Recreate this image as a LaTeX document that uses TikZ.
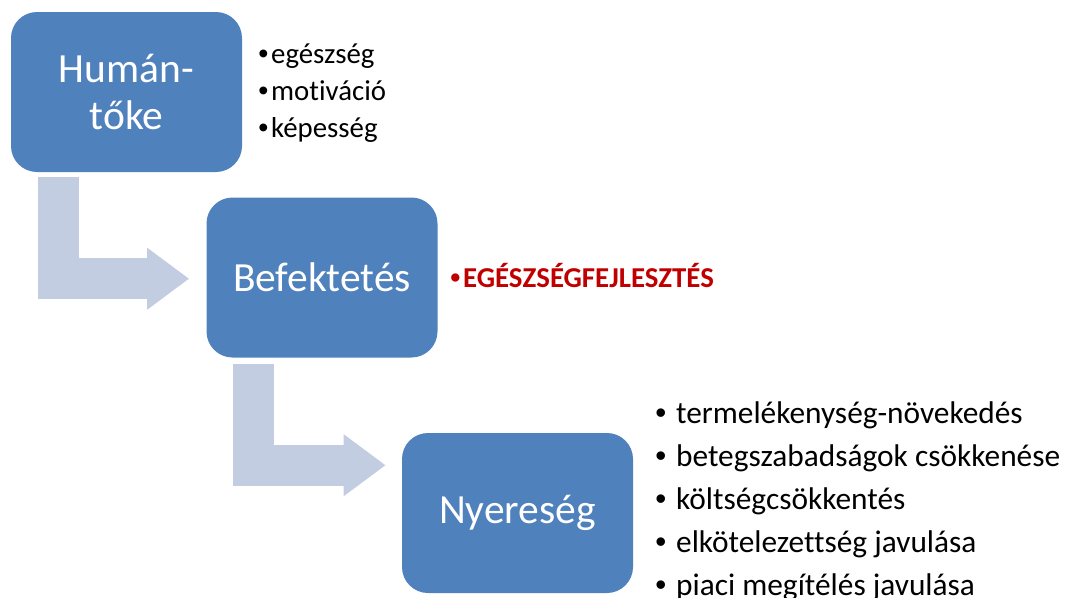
\documentclass[tikz,border=0pt]{standalone}
\usepackage{fontspec}
\setmainfont{Carlito}[Ligatures={NoCommon}]
\newfontfamily\pontbetu{Liberation Sans}
\usetikzlibrary{arrows.meta}
\definecolor{doboz}{RGB}{79,129,189}
\definecolor{nyilszin}{RGB}{195,205,226}
\definecolor{piros}{RGB}{192,0,0}
\newcommand{\pnt}{{\pontbetu •}\kern0.07cm}

\begin{document}
\begin{tikzpicture}[
  lepes/.style={rectangle, rounded corners=0.65cm, fill=doboz, text=white,
    minimum width=5.775cm, minimum height=4cm, align=center,
    font=\fontsize{29.5}{33}\selectfont},
  nyil/.style={nyilszin, line width=1.025cm, line join=miter,
    -{Triangle[length=1.05cm,width=1.475cm]}},
  pont/.style={anchor=base west, inner sep=0pt}]
\useasboundingbox (0,0) rectangle (26.775,-14.95);

\node[lepes] (hum) at (3.1625,-2.3) {Humán-\\tőke};
\node[lepes] (bef) at (8.05,-6.9375) {Befektetés};
\node[lepes] (nye) at (12.9375,-12.825) {Nyereség};

\draw[nyil] ([xshift=1.1875cm,yshift=-0.125cm]hum.south west) |- ([xshift=-0.425cm,yshift=-2.0375cm]bef.north west);
\draw[nyil] ([xshift=1.175cm,yshift=-0.15cm]bef.south west) |- ([xshift=-0.4cm,yshift=-0.8125cm]nye.north west);

% human capital
\foreach \t [count=\i] in {egészség,motiváció,képesség}
  \node[pont, font=\fontsize{20.5}{24}\selectfont] (h\i) at (6.45,{-1.575-0.925*(\i-1)}) {\pnt\t};

% investment
\node[pont, text=piros, font=\fontsize{20.5}{24}\selectfont\bfseries] (b1) at (11.25,-7.175) {\pnt EGÉSZSÉGFEJLESZTÉS};

% profit
\foreach \t [count=\i] in {termelékenység-növekedés,betegszabadságok csökkenése,költségcsökkentés,elkötelezettség javulása,piaci megítélés javulása}
  \node[pont, font=\fontsize{22.3}{26}\selectfont] (n\i) at (16.375,{-10.575-1.075*(\i-1)}) {\pnt\ \t};

\end{tikzpicture}
\end{document}
